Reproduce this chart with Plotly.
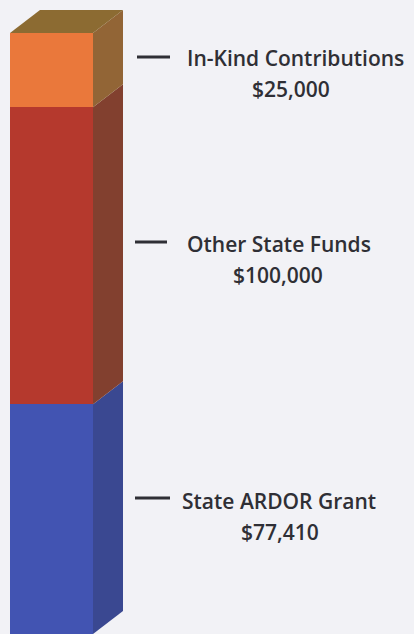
import plotly.graph_objects as go

# Data
categories = ["State ARDOR Grant", "Other State Funds", "In-Kind Contributions"]
values = [77410, 100000, 25000]
value_labels = ["$77,410", "$100,000", "$25,000"]

# styles
front_colors = ["#4254B2", "#B5392D", "#EA783B"]
side_colors = ["#3A4891", "#82402F", "#926536"]
top_color = "#8C6B32"
text_color = "#2F2F35"

W, H = 414, 634
total = sum(values)
# pixel geometry
front_left_px, front_right_px = 10, 93
front_top_px, front_bottom_px = 33, 634
depth_dx_px, depth_dy_px = 30, 23
units_per_px = total / (front_bottom_px - front_top_px)
y_max = total + front_top_px * units_per_px
depth_dy = depth_dy_px * units_per_px


def py(px_y):
    return (front_bottom_px - px_y) * units_per_px


fig = go.Figure()
bases = []
b = 0
for cat, v, col in zip(categories, values, front_colors):
    bases.append(b)
    fig.add_trace(go.Bar(x=[(front_left_px + front_right_px) / 2], y=[v], base=[b],
                         width=front_right_px - front_left_px, marker=dict(color=col, line=dict(width=0)),
                         name=cat, hoverinfo="skip", showlegend=False))
    b += v

shapes = []
xr = front_right_px
for v, base, col in zip(values, bases, side_colors):
    t = base + v
    path = f"M {xr},{base} L {xr + depth_dx_px},{base + depth_dy} L {xr + depth_dx_px},{t + depth_dy} L {xr},{t} Z"
    shapes.append(dict(type="path", path=path, fillcolor=col, line=dict(width=0), layer="above"))
T = total
path = (f"M {front_left_px},{T} L {front_left_px + depth_dx_px},{T + depth_dy} "
        f"L {xr + depth_dx_px},{T + depth_dy} L {xr},{T} Z")
shapes.append(dict(type="path", path=path, fillcolor=top_color, line=dict(width=0), layer="above"))

# label layout (pixel positions): name line, value line, dash
name_pos = [(279, 501), (279, 244), (295, 58)]
value_pos = [(280, 532), (278, 275), (291, 89)]
dash_pos = [(135, 170, 498), (135, 167, 242), (137, 170, 57)]

font = dict(family="Open Sans", size=21, color=text_color, weight=600)
annotations = []
for cat, lab, npos, vpos, d in zip(categories, value_labels, name_pos, value_pos, dash_pos):
    annotations.append(dict(x=npos[0], y=py(npos[1]), text=cat, showarrow=False,
                            xanchor="center", yanchor="middle", font=font))
    annotations.append(dict(x=vpos[0], y=py(vpos[1]), text=lab, showarrow=False,
                            xanchor="center", yanchor="middle", font=font))
    shapes.append(dict(type="line", x0=d[0], x1=d[1], y0=py(d[2]), y1=py(d[2]),
                       line=dict(color=text_color, width=3)))

fig.update_layout(
    width=W, height=H, margin=dict(l=0, r=0, t=0, b=0),
    paper_bgcolor="#F2F2F6", plot_bgcolor="#F2F2F6",
    xaxis=dict(range=[0, W], visible=False, fixedrange=True),
    yaxis=dict(range=[0, y_max], visible=False, fixedrange=True),
    shapes=shapes, annotations=annotations, bargap=0,
)
fig.write_html("out.html", config={"displayModeBar": False},
               post_script="document.body.style.margin='0';document.body.style.padding='0';")
